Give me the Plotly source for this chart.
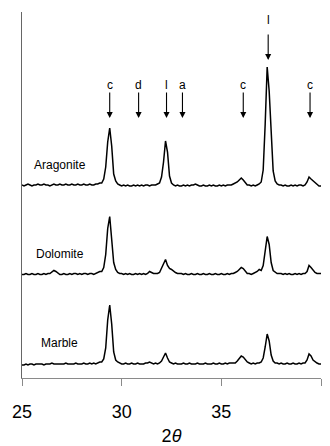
import plotly.graph_objects as go

# 2-theta grid (degrees), step 0.1 from 25 to 40
two_theta = [round(25 + 0.1 * i, 1) for i in range(151)]

# Intensities (arbitrary units, above each pattern's own baseline)
aragonite = [
    1, 0, 1, 2, 1, 0, 1, 1, 2, 1,
    1, 2, 1, 1, 0, 1, 2, 1, 1, 2,
    1, 1, 2, 1, 1, 2, 1, 1, 2, 1,
    1, 2, 1, 1, 2, 1, 1, 2, 2, 3,
    3, 7, 19, 44, 58, 40, 12, 5, 2, 1,
    0, 1, 0, 1, 0, 0, 1, 0, 1, 0,
    1, 0, 1, 1, 0, 1, 1, 1, 2, 3,
    9, 24, 45, 34, 10, 3, 1, 0, 1, 0,
    0, 1, 0, 1, 0, 1, 1, 2, 1, 0,
    0, 1, 0, 0, 1, 0, 1, 0, 0, 1,
    0, 1, 0, 1, 1, 1, 2, 3, 4, 6,
    8, 6, 3, 1, 1, 0, 1, 0, 1, 2,
    4, 16, 62, 119, 95, 48, 15, 5, 2, 1,
    1, 0, 1, 0, 0, 1, 0, 1, 0, 1,
    1, 0, 1, 4, 9, 7, 5, 3, 1, 0,
    0,
]
dolomite = [
    0, 0, 1, 0, 0, 1, 0, 0, 1, 0,
    0, 1, 0, 1, 1, 3, 4, 3, 1, 0,
    0, 1, 0, 0, 1, 0, 1, 1, 0, 1,
    0, 1, 1, 0, 1, 1, 0, 1, 2, 3,
    3, 7, 20, 46, 58, 38, 12, 5, 2, 1,
    1, 0, 1, 0, 1, 0, 0, 1, 0, 1,
    0, 1, 0, 1, 3, 2, 1, 1, 1, 2,
    6, 11, 15, 9, 6, 5, 3, 2, 1, 1,
    1, 0, 1, 0, 0, 1, 0, 0, 1, 0,
    0, 1, 0, 0, 1, 0, 0, 1, 0, 0,
    1, 0, 0, 1, 0, 1, 1, 2, 3, 5,
    7, 6, 3, 1, 1, 0, 1, 2, 3, 5,
    4, 9, 24, 38, 30, 12, 4, 2, 1, 1,
    1, 0, 1, 0, 1, 0, 0, 1, 0, 1,
    0, 1, 1, 3, 9, 7, 4, 2, 1, 1,
    1,
]
marble = [
    -1, -1, 0, -1, 0, 0, -1, 0, 0, 0,
    0, -1, 0, 0, 0, 1, 0, 0, 0, 0,
    0, 0, 1, 0, 0, 0, 0, 1, 0, 0,
    0, 1, 0, 0, 1, 0, 1, 0, 1, 2,
    2, 5, 16, 44, 59, 40, 12, 4, 2, 1,
    0, 0, 1, 0, 0, 1, 0, 0, 1, 0,
    0, 0, 1, 1, 2, 1, 0, 1, 0, 1,
    3, 7, 11, 6, 2, 1, 0, 1, 0, 0,
    0, 1, 0, 0, 1, 0, 0, 0, 1, 0,
    0, 0, 1, 0, 0, 0, 1, 0, 0, 1,
    0, 0, 1, 0, 1, 1, 1, 1, 3, 5,
    8, 7, 4, 2, 1, 0, 1, 0, 1, 1,
    2, 6, 17, 30, 23, 9, 3, 1, 1, 0,
    1, 0, 0, 1, 0, 0, 1, 0, 0, 1,
    0, 1, 1, 4, 10, 8, 4, 2, 1, 0,
    0,
]
sample_names = ["Aragonite", "Dolomite", "Marble"]

# Marked reflections (2-theta) and their phase letters
peak_positions = [29.4, 30.85, 32.25, 33.05, 36.1, 37.35, 39.45]
peak_labels = ["c", "d", "l", "a", "c", "l", "c"]

# ---- styling / layout ----
offsets = [192, 103.5, 14]
FONT = "Liberation Sans, Arial, sans-serif"
series = [aragonite, dolomite, marble]

fig = go.Figure()
for vals, off in zip(series, offsets):
    fig.add_trace(go.Scatter(
        x=two_theta, y=[v + off for v in vals], mode="lines",
        line=dict(color="black", width=1.5), showlegend=False, hoverinfo="skip"))

for name, off in zip(sample_names, offsets):
    fig.add_annotation(x=26.9, y=off + 21, text=name, showarrow=False,
                       xanchor="center", yanchor="middle",
                       font=dict(family=FONT, size=12, color="black"))

arrow_level = 260
top = aragonite
for pos, lab in zip(peak_positions, peak_labels):
    near = [t + offsets[0] for xx, t in zip(two_theta, top) if abs(xx - pos) <= 0.1]
    tip = max(arrow_level, max(near) + 7)
    tall = tip > arrow_level
    fig.add_annotation(x=pos, y=tip, ax=0, ay=-27, text="", showarrow=True,
                       arrowhead=2, arrowsize=1.1, arrowwidth=1.1, arrowcolor="black",
                       font=dict(color="black"))
    fig.add_annotation(x=pos, y=tip, text=lab, showarrow=False,
                       xanchor="center", yanchor="bottom", yshift=31 if tall else 24,
                       font=dict(family=FONT, size=12, color="#000000"))

fig.update_layout(
    template="none",
    width=330, height=446,
    margin=dict(l=22, r=9, t=12, b=68),
    plot_bgcolor="white", paper_bgcolor="white",
    font=dict(family=FONT, color="black"),
    xaxis=dict(range=[25, 40], tickvals=[25, 30, 35, 40], automargin=False,
               ticks="outside", ticklen=7, tickwidth=1, tickcolor="#8a8a8a",
               showline=True, linecolor="#8a8a8a", linewidth=1,
               showgrid=False, zeroline=False,
               tickfont=dict(family=FONT, size=18, color="black"),
               ticklabelstandoff=10,
               title=dict(text="2<i>θ</i>", font=dict(family=FONT, size=18, color="black"),
                          standoff=9)),
    yaxis=dict(range=[0, 366], showline=True, linecolor="#666666", linewidth=1,
               automargin=False,
               showticklabels=False, ticks="", showgrid=False, zeroline=False),
)

fig.write_html("out.html", config={"displayModeBar": False},
               post_script="document.body.style.margin='0';document.body.style.padding='0';")
